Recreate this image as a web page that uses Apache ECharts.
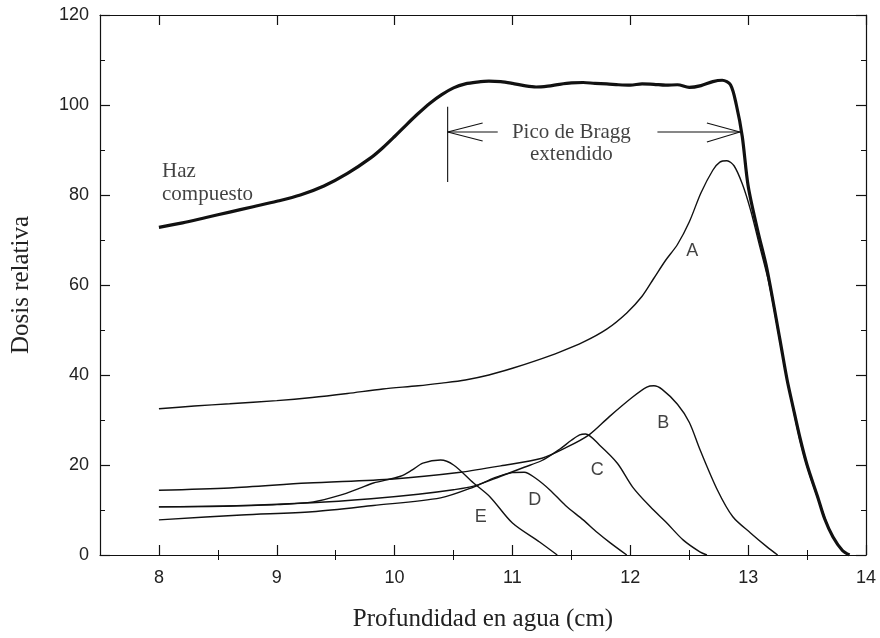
<!DOCTYPE html>
<html>
<head>
<meta charset="utf-8">
<script src="https://cdn.jsdelivr.net/npm/echarts@6/dist/echarts.min.js"></script>
<style>
  html, body { margin: 0; padding: 0; background: #fff; }
  #chart { width: 880px; height: 638px; }
</style>
</head>
<body>
<div id="chart"></div>
<script>
// Depth-dose curves: depth in water (cm) vs relative dose
const compuesto = [[8.0,72.8],[8.2,73.8],[8.4,75.0],[8.6,76.2],[8.8,77.4],[9.0,78.6],[9.2,80.0],[9.4,82.0],[9.6,84.8],[9.8,88.3],[9.9,90.5],[10.0,93.0],[10.1,95.6],[10.2,98.1],[10.3,100.4],[10.4,102.3],[10.5,103.8],[10.6,104.7],[10.7,105.1],[10.8,105.3],[10.9,105.2],[11.0,104.8],[11.1,104.3],[11.2,104.0],[11.3,104.2],[11.4,104.6],[11.5,104.9],[11.6,105.0],[11.7,104.8],[11.8,104.7],[11.9,104.5],[12.0,104.4],[12.1,104.7],[12.2,104.6],[12.3,104.4],[12.4,104.5],[12.5,103.9],[12.6,104.3],[12.7,105.2],[12.78,105.5],[12.85,104.5],[12.9,100.0],[12.95,93.0],[13.0,82.0],[13.08,72.2],[13.16,63.5],[13.27,47.8],[13.33,39.0],[13.38,33.0],[13.44,26.0],[13.5,20.0],[13.59,12.9],[13.65,8.0],[13.72,4.0],[13.8,1.0],[13.86,0.0]];
const curvaA = [[8.0,32.5],[8.3,33.1],[8.6,33.6],[9.0,34.3],[9.3,35.0],[9.6,35.9],[9.9,36.9],[10.2,37.6],[10.4,38.2],[10.6,38.9],[10.8,40.0],[11.0,41.5],[11.2,43.2],[11.4,45.1],[11.6,47.3],[11.8,50.2],[11.97,53.8],[12.1,57.5],[12.2,61.5],[12.3,65.5],[12.4,69.0],[12.5,74.0],[12.6,80.5],[12.7,85.5],[12.76,87.3],[12.82,87.6],[12.88,86.5],[12.95,82.5],[13.02,76.7],[13.1,68.4],[13.18,60.0],[13.27,47.5],[13.35,36.5],[13.44,25.5],[13.52,18.0],[13.6,12.0],[13.7,5.0],[13.8,1.0],[13.85,0.0]];
const curvaB = [[8.0,14.4],[8.6,14.9],[9.26,16.0],[9.99,16.9],[10.56,18.4],[10.9,19.8],[11.25,21.5],[11.45,23.8],[11.65,26.7],[11.82,30.7],[12.02,35.1],[12.14,37.3],[12.2,37.6],[12.27,36.8],[12.4,33.5],[12.5,29.5],[12.59,23.5],[12.74,14.4],[12.87,8.5],[13.02,4.9],[13.16,1.8],[13.25,0.0]];
const curvaC = [[8.0,10.7],[8.6,10.9],[9.3,11.6],[9.8,12.5],[10.2,13.5],[10.5,14.5],[10.67,15.3],[10.9,17.5],[11.1,19.5],[11.25,21.0],[11.4,23.5],[11.5,25.5],[11.57,26.7],[11.62,26.9],[11.74,24.4],[11.89,20.4],[12.02,15.1],[12.17,10.7],[12.31,7.1],[12.45,3.3],[12.59,0.7],[12.65,0.0]];
const curvaD = [[8.0,7.8],[8.7,8.9],[9.3,9.6],[9.82,11.0],[10.39,12.7],[10.67,15.1],[10.85,17.2],[11.0,18.3],[11.1,18.4],[11.2,17.0],[11.32,14.4],[11.45,11.0],[11.6,7.8],[11.72,5.0],[11.83,2.7],[11.97,0.0]];
const curvaE = [[8.0,10.7],[8.6,10.9],[9.0,11.2],[9.31,11.8],[9.54,13.3],[9.7,14.8],[9.82,16.0],[10.05,17.5],[10.15,18.9],[10.24,20.4],[10.39,21.1],[10.5,20.0],[10.67,16.0],[10.81,12.9],[11.0,7.1],[11.23,2.9],[11.38,0.0]];

const xMajor = [8, 9, 10, 11, 12, 13, 14];
const xMinor = [8.5, 9.5, 10.5, 11.5, 12.5, 13.5];

// Curve letter labels [x, y, text]
const curveLabels = [[12.525, 67.6, 'A'], [12.28, 29.3, 'B'], [11.72, 18.9, 'C'], [11.19, 12.2, 'D'], [10.73, 8.4, 'E']];
// Text notes [x, y, text]
const notes = [[8.026, 82.7, 'Haz\ncompuesto']];
const braggNote = [[11.5, 91.5, 'Pico de Bragg\nextendido']];
// Spread-out Bragg peak bracket
const bracket = { left: 10.45, right: 12.93, y: 94, barTop: 99.6, barBottom: 82.9, shaftLeftEnd: 10.875, shaftRightStart: 12.23 };

const ink = '#111';
const serif = '"Liberation Serif", "DejaVu Serif", serif';
const sans = '"Liberation Sans", Arial, sans-serif';

const chart = echarts.init(document.getElementById('chart'), null, { renderer: 'canvas' });

function lineSeries(data, width) {
  return {
    type: 'line', data: data, xAxisIndex: 0, yAxisIndex: 0,
    showSymbol: false, symbol: 'none', smooth: 0.3, animation: false,
    lineStyle: { color: ink, width: width }, z: 3
  };
}

const frameLine = { show: true, onZero: false, lineStyle: { color: ink, width: 1.2 } };

chart.setOption({
  animation: false,
  backgroundColor: '#fff',
  grid: { left: 100, right: 14, top: 15, bottom: 83, containLabel: false },
  xAxis: [
    {
      type: 'value', position: 'bottom', min: 7.5, max: 14,
      axisLine: frameLine,
      axisTick: { show: true, inside: true, length: 10, customValues: xMajor, lineStyle: { color: ink, width: 1.2 } },
      axisLabel: { show: true, customValues: xMajor, margin: 14, fontFamily: sans, fontSize: 18, color: '#222' },
      splitLine: { show: false },
      name: 'Profundidad en agua (cm)', nameLocation: 'middle', nameGap: 52,
      nameTextStyle: { fontFamily: serif, fontSize: 25, color: '#222' }
    },
    {
      type: 'value', position: 'top', min: 7.5, max: 14,
      axisLine: frameLine,
      axisTick: { show: true, inside: true, length: 10, customValues: xMajor, lineStyle: { color: ink, width: 1.2 } },
      axisLabel: { show: false }, splitLine: { show: false }
    },
    {
      type: 'value', position: 'bottom', min: 7.5, max: 14,
      axisLine: { show: false },
      axisTick: { show: true, inside: true, length: 5, customValues: xMinor, lineStyle: { color: ink, width: 1 } },
      axisLabel: { show: false }, splitLine: { show: false }
    },
    {
      type: 'value', position: 'top', min: 7.5, max: 14,
      axisLine: { show: false },
      axisTick: { show: true, inside: true, length: 5, customValues: xMinor, lineStyle: { color: ink, width: 1 } },
      axisLabel: { show: false }, splitLine: { show: false }
    }
  ],
  yAxis: [
    {
      type: 'value', position: 'left', min: 0, max: 120, interval: 20,
      axisLine: frameLine,
      axisTick: { show: true, inside: true, length: 10, lineStyle: { color: ink, width: 1.2 } },
      minorTick: { show: true, splitNumber: 2, length: 5, lineStyle: { color: ink, width: 1 } },
      axisLabel: { margin: 11, fontFamily: sans, fontSize: 18, color: '#222' },
      splitLine: { show: false }, minorSplitLine: { show: false },
      name: 'Dosis relativa', nameLocation: 'middle', nameGap: 66, nameRotate: 90,
      nameTextStyle: { fontFamily: serif, fontSize: 25, color: '#222' }
    },
    {
      type: 'value', position: 'right', min: 0, max: 120, interval: 20,
      axisLine: frameLine,
      axisTick: { show: true, inside: true, length: 10, lineStyle: { color: ink, width: 1.2 } },
      minorTick: { show: true, splitNumber: 2, length: 5, lineStyle: { color: ink, width: 1 } },
      axisLabel: { show: false }, splitLine: { show: false }
    }
  ],
  series: [
    lineSeries(curvaE, 1.4),
    lineSeries(curvaD, 1.4),
    lineSeries(curvaC, 1.4),
    lineSeries(curvaB, 1.4),
    lineSeries(curvaA, 1.4),
    lineSeries(compuesto, 3.2),
    {
      type: 'scatter', data: curveLabels.map(d => [d[0], d[1], d[2]]),
      symbolSize: 0, silent: true, animation: false, z: 5,
      label: {
        show: true, position: 'inside', formatter: p => p.data[2],
        fontFamily: sans, fontSize: 18, color: '#111', align: 'center', verticalAlign: 'middle'
      }
    },
    {
      type: 'scatter', data: notes.map(d => [d[0], d[1], d[2]]),
      symbolSize: 0, silent: true, animation: false, z: 5,
      label: {
        show: true, position: 'inside', formatter: p => p.data[2],
        fontFamily: serif, fontSize: 21, lineHeight: 23, color: '#111', align: 'left', verticalAlign: 'middle'
      }
    },
    {
      type: 'scatter', data: braggNote.map(d => [d[0], d[1], d[2]]),
      symbolSize: 0, silent: true, animation: false, z: 5,
      label: {
        show: true, position: 'inside', formatter: p => p.data[2],
        fontFamily: serif, fontSize: 21, lineHeight: 22, color: '#111', align: 'center', verticalAlign: 'middle'
      }
    },
    {
      type: 'custom', silent: true, animation: false, clip: false, z: 4,
      data: [[bracket.left, bracket.y]],
      renderItem: function (params, api) {
        const st = { stroke: ink, lineWidth: 1.1, fill: null };
        const L = api.coord([bracket.left, bracket.y]);
        const R = api.coord([bracket.right, bracket.y]);
        const bt = api.coord([bracket.left, bracket.barTop]);
        const bb = api.coord([bracket.left, bracket.barBottom]);
        const le = api.coord([bracket.shaftLeftEnd, bracket.y]);
        const rs = api.coord([bracket.shaftRightStart, bracket.y]);
        const seg = (x1, y1, x2, y2) => ({ type: 'line', shape: { x1, y1, x2, y2 }, style: st });
        return {
          type: 'group',
          children: [
            seg(bt[0], bt[1], bb[0], bb[1]),
            seg(L[0], L[1], le[0], le[1]),
            seg(L[0], L[1], L[0] + 35, L[1] - 9),
            seg(L[0], L[1], L[0] + 35, L[1] + 9),
            seg(rs[0], rs[1], R[0], R[1]),
            seg(R[0], R[1], R[0] - 33, R[1] - 9),
            seg(R[0], R[1], R[0] - 33, R[1] + 10)
          ]
        };
      }
    }
  ]
});
</script>
</body>
</html>
